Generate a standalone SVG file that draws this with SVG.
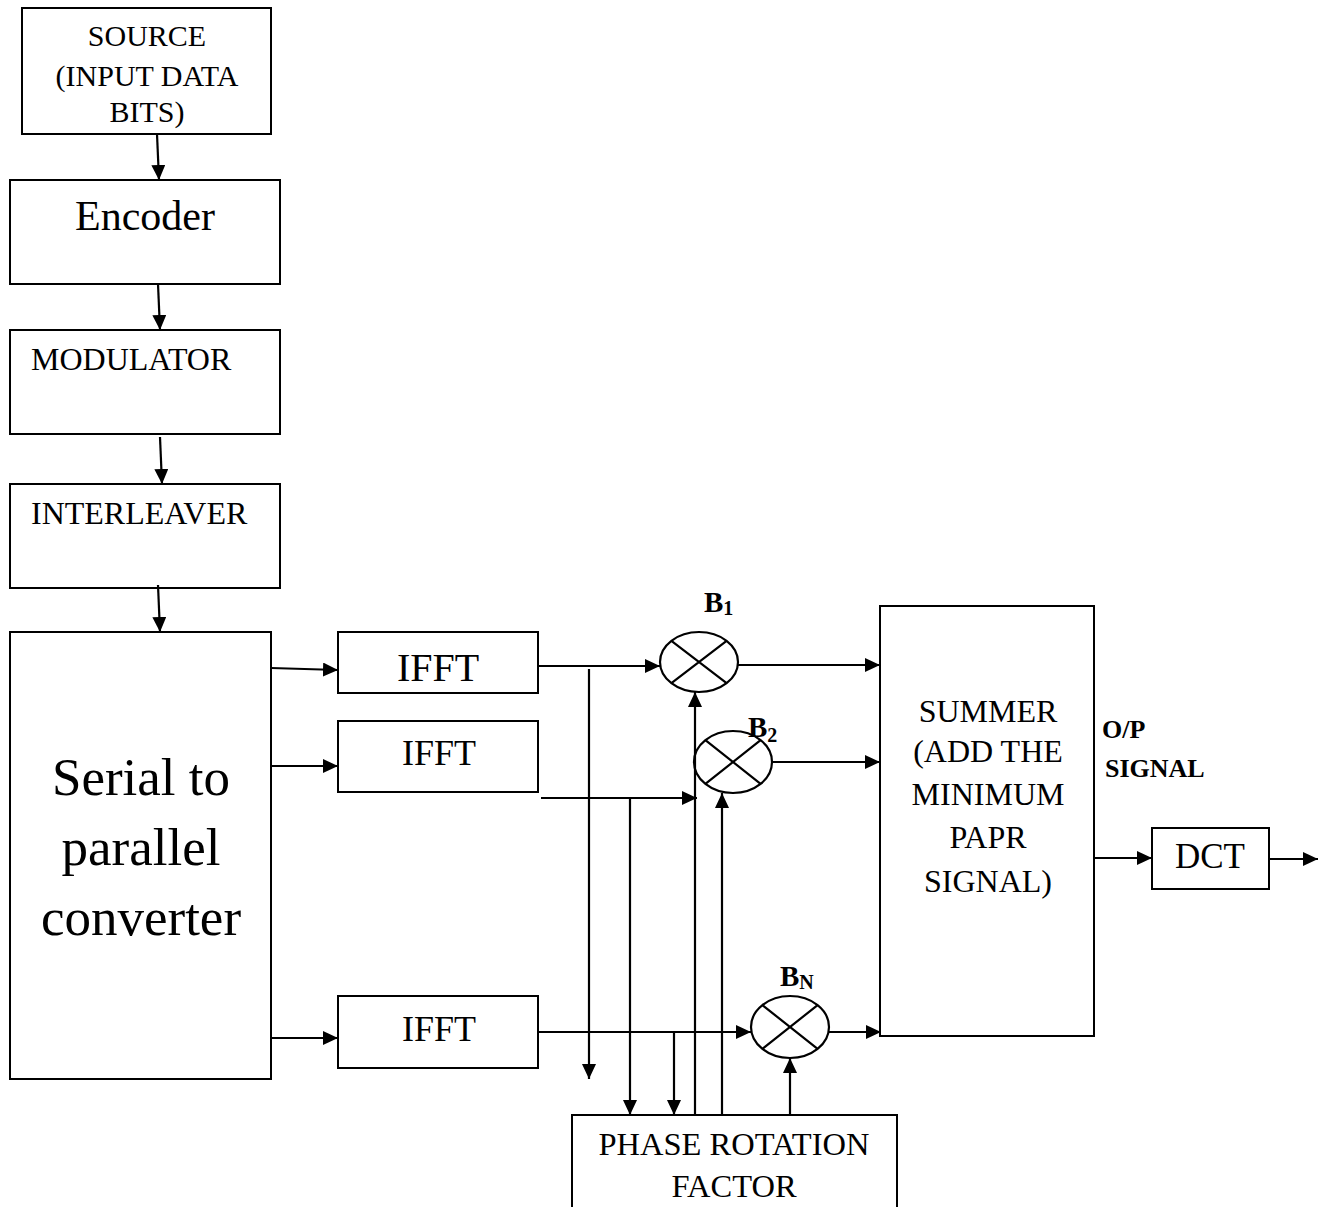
<svg xmlns="http://www.w3.org/2000/svg" width="1325" height="1207" viewBox="0 0 1325 1207">
<style>
.box{fill:#fff;stroke:#000;stroke-width:2}
.ln{fill:none;stroke:#000;stroke-width:2.2}
.t{font-family:"Liberation Serif","Times New Roman",serif;fill:#000}
.b{font-family:"Liberation Serif","Times New Roman",serif;font-weight:bold;fill:#000}
</style>
<defs>
<marker id="ah" markerUnits="userSpaceOnUse" markerWidth="16" markerHeight="14" refX="15" refY="7" orient="auto">
<path d="M0,0 L15,7 L0,14 Z" fill="#000"/>
</marker>
</defs>
<rect width="1325" height="1207" fill="#fff"/>
<g id="source"><rect class="box" x="22" y="8" width="249" height="126"/>
<text class="t" font-size="30" text-anchor="middle" x="147" y="46">SOURCE</text>
<text class="t" font-size="30" text-anchor="middle" x="147" y="86">(INPUT DATA</text>
<text class="t" font-size="30" text-anchor="middle" x="147" y="122">BITS)</text></g>
<g id="encoder"><rect class="box" x="10" y="180" width="270" height="104"/>
<text class="t" font-size="42" text-anchor="middle" x="145" y="230">Encoder</text></g>
<g id="modulator"><rect class="box" x="10" y="330" width="270" height="104"/>
<text class="t" font-size="32" x="31" y="370">MODULATOR</text></g>
<g id="interleaver"><rect class="box" x="10" y="484" width="270" height="104"/>
<text class="t" font-size="32" x="31" y="524">INTERLEAVER</text></g>
<g id="s2p"><rect class="box" x="10" y="632" width="261" height="447"/>
<text class="t" font-size="53" text-anchor="middle" x="141" y="795">Serial to</text>
<text class="t" font-size="53" text-anchor="middle" x="141" y="865">parallel</text>
<text class="t" font-size="53" text-anchor="middle" x="141" y="935">converter</text></g>
<g id="ifft1"><rect class="box" x="338" y="632" width="200" height="61"/>
<text class="t" font-size="40" text-anchor="middle" x="438" y="681">IFFT</text></g>
<g id="ifft2"><rect class="box" x="338" y="721" width="200" height="71"/>
<text class="t" font-size="36" text-anchor="middle" x="439" y="765">IFFT</text></g>
<g id="ifft3"><rect class="box" x="338" y="996" width="200" height="72"/>
<text class="t" font-size="36" text-anchor="middle" x="439" y="1041">IFFT</text></g>
<g id="b1"><ellipse class="ln" cx="699" cy="662" rx="39" ry="30"/>
<path class="ln" d="M671.4,640.8 L726.6,683.2 M726.6,640.8 L671.4,683.2"/>
<text class="b" font-size="29" x="704" y="612">B<tspan font-size="20" dy="3">1</tspan></text></g>
<g id="b2"><ellipse class="ln" cx="733" cy="762" rx="39" ry="31"/>
<path class="ln" d="M705.4,740.1 L760.6,783.9 M760.6,740.1 L705.4,783.9"/>
<text class="b" font-size="29" x="748" y="737">B<tspan font-size="20" dy="5">2</tspan></text></g>
<g id="bn"><ellipse class="ln" cx="790" cy="1027" rx="39" ry="31"/>
<path class="ln" d="M762.4,1005.1 L817.6,1048.9 M817.6,1005.1 L762.4,1048.9"/>
<text class="b" font-size="29" x="780" y="986">B<tspan font-size="20" dy="3">N</tspan></text></g>
<g id="summer"><rect class="box" x="880" y="606" width="214" height="430"/>
<text class="t" font-size="32" text-anchor="middle" x="988" y="722">SUMMER</text>
<text class="t" font-size="32" text-anchor="middle" x="988" y="762">(ADD THE</text>
<text class="t" font-size="32" text-anchor="middle" x="988" y="805">MINIMUM</text>
<text class="t" font-size="32" text-anchor="middle" x="988" y="848">PAPR</text>
<text class="t" font-size="32" text-anchor="middle" x="988" y="892">SIGNAL)</text></g>
<g id="oplabel"><text class="b" font-size="26" x="1102" y="738">O/P</text>
<text class="b" font-size="26" x="1105" y="777">SIGNAL</text></g>
<g id="dct"><rect class="box" x="1152" y="828" width="117" height="61"/>
<text class="t" font-size="35" text-anchor="middle" x="1210" y="868">DCT</text></g>
<g id="phase"><rect class="box" x="572" y="1115" width="325" height="100"/>
<text class="t" font-size="32.5" text-anchor="middle" x="734" y="1155">PHASE ROTATION</text>
<text class="t" font-size="32.5" text-anchor="middle" x="734" y="1197">FACTOR</text></g>
<g id="connectors">
<line class="ln" x1="157" y1="134" x2="159" y2="180" marker-end="url(#ah)"/>
<line class="ln" x1="158" y1="284" x2="160" y2="330" marker-end="url(#ah)"/>
<line class="ln" x1="160" y1="437" x2="162" y2="484" marker-end="url(#ah)"/>
<line class="ln" x1="158" y1="585" x2="160" y2="632" marker-end="url(#ah)"/>
<line class="ln" x1="271" y1="668" x2="338" y2="670" marker-end="url(#ah)"/>
<line class="ln" x1="271" y1="766" x2="338" y2="766" marker-end="url(#ah)"/>
<line class="ln" x1="271" y1="1038" x2="338" y2="1038" marker-end="url(#ah)"/>
<line class="ln" x1="538" y1="666" x2="660" y2="666" marker-end="url(#ah)"/>
<line class="ln" x1="589" y1="669" x2="589" y2="1079" marker-end="url(#ah)"/>
<line class="ln" x1="541" y1="798" x2="697" y2="798" marker-end="url(#ah)"/>
<line class="ln" x1="630" y1="798" x2="630" y2="1115" marker-end="url(#ah)"/>
<line class="ln" x1="538" y1="1032" x2="751" y2="1032" marker-end="url(#ah)"/>
<line class="ln" x1="674" y1="1032" x2="674" y2="1115" marker-end="url(#ah)"/>
<line class="ln" x1="695" y1="1115" x2="695" y2="692" marker-end="url(#ah)"/>
<line class="ln" x1="722" y1="1115" x2="722" y2="793" marker-end="url(#ah)"/>
<line class="ln" x1="790" y1="1115" x2="790" y2="1058" marker-end="url(#ah)"/>
<line class="ln" x1="738" y1="665" x2="880" y2="665" marker-end="url(#ah)"/>
<line class="ln" x1="772" y1="762" x2="880" y2="762" marker-end="url(#ah)"/>
<line class="ln" x1="829" y1="1032" x2="881" y2="1032" marker-end="url(#ah)"/>
<line class="ln" x1="1094" y1="858" x2="1152" y2="858" marker-end="url(#ah)"/>
<line class="ln" x1="1269" y1="859" x2="1318" y2="859" marker-end="url(#ah)"/>
</g>
</svg>
